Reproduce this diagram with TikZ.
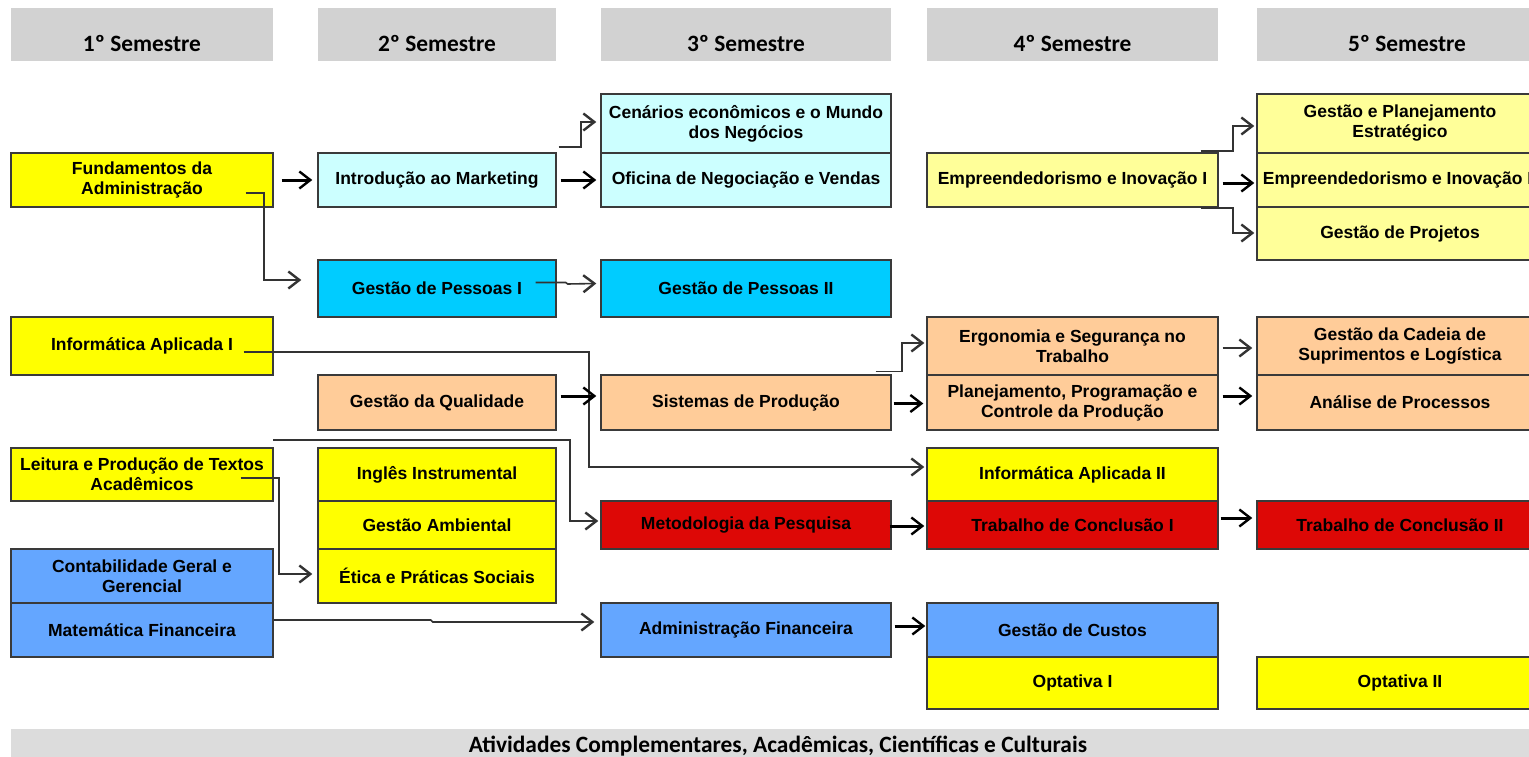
\documentclass[tikz,border=0pt]{standalone}
\usepackage{fontspec}
\setmainfont{Liberation Sans}
\newfontfamily\hdrfam{Carlito}
\usetikzlibrary{arrows.meta,calc}
\definecolor{cyel}{HTML}{FFFF00}
\definecolor{cpyl}{HTML}{FFFF99}
\definecolor{clcy}{HTML}{CCFFFF}
\definecolor{ccya}{HTML}{00CCFF}
\definecolor{cpea}{HTML}{FFCC99}
\definecolor{cred}{HTML}{DD0806}
\definecolor{cblu}{HTML}{64A6FF}
\definecolor{chdr}{HTML}{D2D2D2}
\definecolor{cbar}{HTML}{DCDCDC}
\definecolor{bline}{HTML}{3A3A3A}
\definecolor{lgray}{HTML}{333333}
\newcommand\mybox[7]{\node[box,fill=#6,minimum width={#4-#2},minimum height={#5-#3}] (#1) at ({(#2+#4)/2},{(#3+#5)/2}) {#7};}
\newcommand\myhdr[4]{\node[hdr,minimum width={#3-#2}] (#1) at ({(#2+#3)/2},34.5) {#4};}
\begin{document}
\begin{tikzpicture}[x=1pt,y=-1pt,
  box/.style={draw=bline,line width=1.4pt,inner sep=0pt,align=center,font=\fontsize{17.5}{20}\selectfont\bfseries},
  hdr/.style={fill=chdr,inner sep=0pt,minimum height=53,text height=35pt,text depth=0pt,font=\hdrfam\fontsize{23.4}{25}\selectfont\bfseries},
  bar/.style={fill=cbar,inner sep=0pt,font=\hdrfam\fontsize{23.4}{25}\selectfont\bfseries},
  tipb/.style={-{Straight Barb[length=11pt,width=17pt,line width=2.4pt]}},
  thk/.style={draw=black,line width=3pt,tipb},
  thn/.style={draw=lgray,line width=1.6pt,tipb}]
\useasboundingbox (0,0) rectangle (1529,757);
\clip (0,0) rectangle (1529,757);
\fill[white] (0,0) rectangle (1529,757);
% headers
\myhdr{h1}{11}{273}{1º Semestre}
\myhdr{h2}{318}{556}{2º Semestre}
\myhdr{h3}{601}{891}{3º Semestre}
\myhdr{h4}{927}{1218}{4º Semestre}
\myhdr{h5}{1257}{1557}{5º Semestre}
\node[bar,minimum width=1534,minimum height=34] (acts) at (778,746) {Atividades Complementares, Acadêmicas, Científicas e Culturais};
% column 1
\mybox{fund}{11}{153}{273}{207}{cyel}{Fundamentos da\\Administração}
\mybox{info1}{11}{317}{273}{375}{cyel}{Informática Aplicada I}
\mybox{leit}{11}{448}{273}{501}{cyel}{Leitura e Produção de Textos\\Acadêmicos}
\mybox{cont}{11}{549}{273}{603}{cblu}{Contabilidade Geral e\\Gerencial}
\mybox{mat}{11}{603}{273}{657}{cblu}{Matemática Financeira}
% column 2
\mybox{intro}{318}{153}{556}{207}{clcy}{Introdução ao Marketing}
\mybox{gp1}{318}{260}{556}{317}{ccya}{Gestão de Pessoas I}
\mybox{qual}{318}{375}{556}{430}{cpea}{Gestão da Qualidade}
\mybox{ingl}{318}{448}{556}{501}{cyel}{Inglês Instrumental}
\mybox{amb}{318}{501}{556}{549}{cyel}{Gestão Ambiental}
\mybox{etica}{318}{549}{556}{603}{cyel}{Ética e Práticas Sociais}
% column 3
\mybox{cen}{601}{94}{891}{153}{clcy}{Cenários econômicos e o Mundo\\dos Negócios}
\mybox{ofic}{601}{153}{891}{207}{clcy}{Oficina de Negociação e Vendas}
\mybox{gp2}{601}{260}{891}{317}{ccya}{Gestão de Pessoas II}
\mybox{sist}{601}{375}{891}{430}{cpea}{Sistemas de Produção}
\mybox{met}{601}{501}{891}{549}{cred}{Metodologia da Pesquisa}
\mybox{admf}{601}{603}{891}{657}{cblu}{Administração Financeira}
% column 4
\mybox{emp1}{927}{153}{1218}{207}{cpyl}{Empreendedorismo e Inovação I}
\mybox{ergo}{927}{317}{1218}{375}{cpea}{Ergonomia e Segurança no\\Trabalho}
\mybox{plan}{927}{375}{1218}{430}{cpea}{Planejamento, Programação e\\Controle da Produção}
\mybox{info2}{927}{448}{1218}{501}{cyel}{Informática Aplicada II}
\mybox{tc1}{927}{501}{1218}{549}{cred}{Trabalho de Conclusão I}
\mybox{custos}{927}{603}{1218}{657}{cblu}{Gestão de Custos}
\mybox{opt1}{927}{657}{1218}{709}{cyel}{Optativa I}
% column 5
\mybox{gpe}{1257}{94}{1543}{153}{cpyl}{Gestão e Planejamento\\Estratégico}
\mybox{emp2}{1257}{153}{1543}{207}{cpyl}{Empreendedorismo e Inovação II}
\mybox{proj}{1257}{207}{1543}{260}{cpyl}{Gestão de Projetos}
\mybox{cadeia}{1257}{317}{1543}{375}{cpea}{Gestão da Cadeia de\\Suprimentos e Logística}
\mybox{anal}{1257}{375}{1543}{430}{cpea}{Análise de Processos}
\mybox{tc2}{1257}{501}{1543}{549}{cred}{Trabalho de Conclusão II}
\mybox{opt2}{1257}{657}{1543}{709}{cyel}{Optativa II}
\coordinate (free) at (273,440);
% connectors
\draw[thk] ($(fund.east)+(8,0)$) -- ($(intro.west)+(-5,0)$);
\draw[thk] ($(intro.east)+(4,0)$) -- ($(ofic.west)+(-4,0)$);
\draw[thn] ($(intro.north east)+(2,-5)$) -- ++(22,0) |- ($(cen.west)+(-4,-1.5)$);
\draw[thn] ($(fund.east)+(-28,13)$) -- ++(18,0) |- ($(gp1.west)+(-16,-8.5)$);
\draw[thn] ($(gp1.east)+(-21,-6)$) -- ++(30,0) -- ++(2,1.5) -- ($(gp2.west)+(-4,-5)$);
\draw[thn] ($(info1.east)+(-30,6)$) -- ++(345,0) |- ($(info2.west)+(-2,-7.5)$);
\draw[thk] ($(qual.east)+(4,-6.5)$) -- ($(sist.west)+(-4,-6.5)$);
\draw[thn] (free) -- ++(297,0) |- ($(met.west)+(-2,-4)$);
\draw[thn] ($(leit.east)+(-33,3.5)$) -- ++(38,0) |- ($(etica.west)+(-5,-2)$);
\draw[thn] ($(mat.east)+(0,-10)$) -- ++(157,0) -- ++(2,2) -- ($(admf.west)+(-6,-8)$);
\draw[thn] ($(sist.north east)+(-16,-3)$) -- ++(26,0) |- ($(ergo.west)+(-2,-3)$);
\draw[thk] ($(sist.east)+(2,1)$) -- ($(plan.west)+(-3,1)$);
\draw[thk] ($(met.east)+(-2,1)$) -- ($(tc1.west)+(-2,1)$);
\draw[thk] ($(admf.east)+(3,-4)$) -- ($(custos.west)+(-1,-4)$);
\draw[thn] ($(emp1.north east)+(-18,-1)$) -- ++(32,0) |- ($(gpe.west)+(-2,2.5)$);
\draw[thk] ($(emp1.east)+(4,3)$) -- ($(emp2.west)+(-2,3)$);
\draw[thn] ($(emp1.south east)+(-18,0)$) -- ++(32,0) |- ($(proj.west)+(-2,-0.5)$);
\draw[thn] ($(ergo.east)+(4,2)$) -- ($(cadeia.west)+(-4,2)$);
\draw[thk] ($(plan.east)+(4,-6.5)$) -- ($(anal.west)+(-4,-6.5)$);
\draw[thk] ($(tc1.east)+(2,-7)$) -- ($(tc2.west)+(-4,-7)$);
\end{tikzpicture}
\end{document}
